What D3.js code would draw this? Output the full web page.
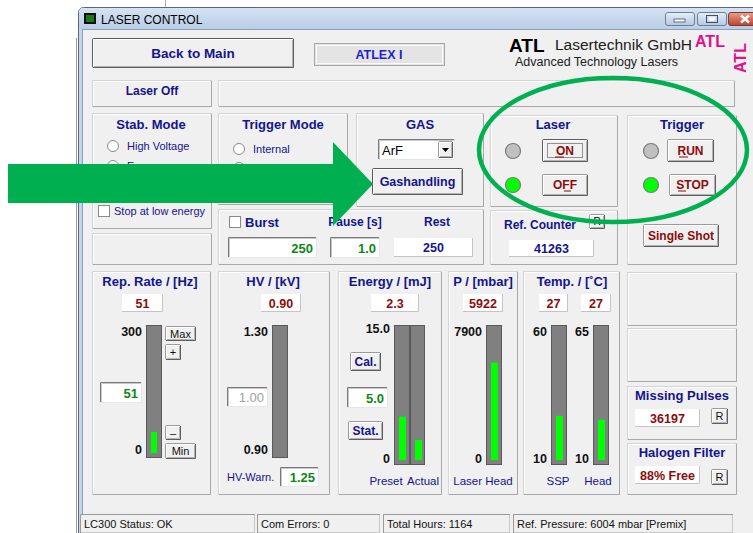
<!DOCTYPE html>
<html lang="en">
<head>
<meta charset="UTF-8">
<title>Laser Control</title>
<script src="https://d3js.org/d3.v7.min.js"></script>
<style>
    body { margin: 0; background: #fff; }
    text { font-family: "Liberation Sans", Arial, sans-serif; }
</style>
</head>
<body>
<script>
    // bar gauges (one entry per bar)
    const gaugeNames = ["Rep. Rate", "HV", "Preset", "Actual", "Laser Head", "SSP", "Head"];
    const gaugeMin = [0, 0.90, 0, 0, 0, 10, 10];
    const gaugeMax = [300, 1.30, 15, 15, 7900, 60, 65];
    const gaugeValues = [51, 0.90, 5.0, 2.3, 5922, 27, 27];
    const gaugeTopLabels = ["300", "1.30", "15.0", "", "7900", "60", "65"];
    const gaugeBottomLabels = ["0", "0.90", "0", "", "0", "10", "10"];

    // readouts above the gauges
    const groupTitles = ["Rep. Rate / [Hz]", "HV / [kV]", "Energy / [mJ]", "P / [mbar]", "Temp. / [˚C]"];
    const readoutValues = ["51", "0.90", "2.3", "5922", "27", "27"];
    const setpointValues = ["51", "1.00", "5.0"];
    const hvWarn = "1.25";

    const burstValues = ["250", "1.0", "250"];
    const refCounter = "41263";
    const missingPulses = "36197";
    const halogenFilter = "88% Free";
    const statusTexts = ["LC300 Status: OK", "Com Errors:  0", "Total Hours: 1164", "Ref. Pressure:  6004 mbar  [Premix]"];

    const W = 753, H = 533;
    const navy = "#14148c", dred = "#8c0c0c", okGreen = "#0a8a14";

    const svg = d3.select("body").append("svg").attr("width", W).attr("height", H);

    function txt(x, y, s, o = {}) {
        return svg.append("text").attr("x", x).attr("y", y)
            .attr("dominant-baseline", "central")
            .attr("text-anchor", o.anchor || "start")
            .attr("font-size", o.size || 11)
            .attr("font-weight", o.weight || "normal")
            .attr("fill", o.fill || "#000")
            .text(s);
    }

    function panel(x, y, w, h) {
        svg.append("rect").attr("x", x + 0.5).attr("y", y + 0.5).attr("width", w - 1).attr("height", h - 1)
            .attr("fill", "#f0f0f0").attr("stroke", "#d4d4d4");
        svg.append("path").attr("d", `M${x + 1.5},${y + h - 2}V${y + 1.5}H${x + w - 2}`)
            .attr("fill", "none").attr("stroke", "#fff");
        svg.append("path").attr("d", `M${x + 1},${y + h - 0.5}H${x + w - 0.5}V${y + 1}`)
            .attr("fill", "none").attr("stroke", "#a8a8a8");
    }

    function button(x, y, w, h, label, o = {}) {
        svg.append("rect").attr("x", x + 0.5).attr("y", y + 0.5).attr("width", w - 1).attr("height", h - 1)
            .attr("rx", 1).attr("fill", "#f0f0f0").attr("stroke", o.dark ? "#5a5a5a" : "#9a9a9a");
        svg.append("path").attr("d", `M${x + 1.5},${y + h - 2}V${y + 1.5}H${x + w - 2}`)
            .attr("fill", "none").attr("stroke", "#fff");
        svg.append("path").attr("d", `M${x + 1},${y + h - 0.5}H${x + w - 0.5}V${y + 1}`)
            .attr("fill", "none").attr("stroke", "#5e5e5e");
        svg.append("path").attr("d", `M${x + 2},${y + h - 1.5}H${x + w - 1.5}V${y + 2}`)
            .attr("fill", "none").attr("stroke", "#b4b4b4");
        if (label !== undefined) {
            txt(x + w / 2, y + h / 2, label, {
                anchor: "middle", size: o.size || 12, weight: o.weight || "bold", fill: o.fill || navy
            });
        }
    }

    function field(x, y, w, h, s, o = {}) {
        svg.append("rect").attr("x", x).attr("y", y).attr("width", w).attr("height", h).attr("fill", "#fff");
        if (o.sunken) {
            svg.append("path").attr("d", `M${x + 0.5},${y + h}V${y + 0.5}H${x + w}`)
                .attr("fill", "none").attr("stroke", "#7a7a7a");
            svg.append("path").attr("d", `M${x + 1.5},${y + h - 1}V${y + 1.5}H${x + w - 1}`)
                .attr("fill", "none").attr("stroke", "#c8c8c8");
            svg.append("path").attr("d", `M${x},${y + h - 0.5}H${x + w - 0.5}V${y}`)
                .attr("fill", "none").attr("stroke", "#e6e6e6");
        } else {
            svg.append("path").attr("d", `M${x},${y + h - 0.5}H${x + w - 0.5}V${y}`)
                .attr("fill", "none").attr("stroke", "#c4c4c4");
        }
        const anchor = o.anchor || "middle";
        const tx = anchor === "end" ? x + w - 4 : x + w / 2;
        txt(tx, y + h / 2 + 0.5, s, { anchor, size: o.size || 13, weight: o.weight || "bold", fill: o.fill || dred });
    }

    function radio(cx, cy, label) {
        svg.append("circle").attr("cx", cx).attr("cy", cy).attr("r", 5.5)
            .attr("fill", "#fff").attr("stroke", "#8a8a8a");
        txt(cx + 14, cy, label, { fill: navy, size: 11 });
    }

    function checkbox(x, y, label, o = {}) {
        svg.append("rect").attr("x", x + 0.5).attr("y", y + 0.5).attr("width", 11).attr("height", 11)
            .attr("fill", "#fff").attr("stroke", "#8a8a8a");
        txt(x + 16, y + 6, label, { fill: navy, size: o.size || 11, weight: o.weight || "normal" });
    }

    function led(cx, cy, on) {
        svg.append("circle").attr("cx", cx).attr("cy", cy).attr("r", 7.5)
            .attr("fill", on ? "#00ff00" : "#c0c0c0").attr("stroke", "#7a7a7a").attr("stroke-width", 1.2);
    }

    // ---------- window chrome ----------
    svg.append("rect").attr("width", W).attr("height", H).attr("fill", "#fff");
    svg.append("line").attr("x1", 76.5).attr("x2", 76.5).attr("y1", 38).attr("y2", H).attr("stroke", "#9a9a9a");
    svg.append("line").attr("x1", 165.5).attr("x2", 165.5).attr("y1", 0).attr("y2", 7).attr("stroke", "#b0b0b0");

    const defs = svg.append("defs");
    const tg = defs.append("linearGradient").attr("id", "title").attr("x1", 0).attr("x2", 0).attr("y1", 0).attr("y2", 1);
    tg.append("stop").attr("offset", 0).attr("stop-color", "#d5e3f3");
    tg.append("stop").attr("offset", 1).attr("stop-color", "#b6cce6");
    const cg = defs.append("linearGradient").attr("id", "close").attr("x1", 0).attr("x2", 0).attr("y1", 0).attr("y2", 1);
    cg.append("stop").attr("offset", 0).attr("stop-color", "#e8a090");
    cg.append("stop").attr("offset", 1).attr("stop-color", "#c0402c");
    const bg = defs.append("linearGradient").attr("id", "cap").attr("x1", 0).attr("x2", 0).attr("y1", 0).attr("y2", 1);
    bg.append("stop").attr("offset", 0).attr("stop-color", "#e6eef8");
    bg.append("stop").attr("offset", 1).attr("stop-color", "#b4c8e2");

    svg.append("rect").attr("x", 78.5).attr("y", 7.5).attr("width", 700).attr("height", 540).attr("rx", 5)
        .attr("fill", "#c4d6ec").attr("stroke", "#5c6878");
    svg.append("rect").attr("x", 79).attr("y", 8).attr("width", 700).attr("height", 22).attr("rx", 4).attr("fill", "url(#title)");
    svg.append("rect").attr("x", 82.5).attr("y", 29.5).attr("width", 700).attr("height", 520)
        .attr("fill", "#f0f0f0").attr("stroke", "#8e9fb4");

    // title icon + text
    svg.append("rect").attr("x", 84).attr("y", 13).attr("width", 12).attr("height", 11).attr("fill", "#101010");
    svg.append("rect").attr("x", 86).attr("y", 15).attr("width", 8).attr("height", 7).attr("fill", "#1a7a1a");
    txt(101, 19.5, "LASER CONTROL", { size: 12 });

    // caption buttons
    [[665, 29], [697, 29]].forEach(([x, w]) => {
        svg.append("rect").attr("x", x + 0.5).attr("y", 12.5).attr("width", w).attr("height", 13).attr("rx", 2.5)
            .attr("fill", "url(#cap)").attr("stroke", "#6b7f99");
    });
    svg.append("rect").attr("x", 674).attr("y", 19).attr("width", 11).attr("height", 3).attr("fill", "#fff").attr("stroke", "#40506a").attr("stroke-width", 0.8);
    svg.append("rect").attr("x", 706.5).attr("y", 15.5).attr("width", 11).attr("height", 7).attr("fill", "none").attr("stroke", "#40506a").attr("stroke-width", 1);
    svg.append("rect").attr("x", 709).attr("y", 17.5).attr("width", 6).attr("height", 3).attr("fill", "#fff");
    svg.append("rect").attr("x", 728.5).attr("y", 12.5).attr("width", 40).attr("height", 13).attr("rx", 2.5)
        .attr("fill", "url(#close)").attr("stroke", "#7a3a30");
    svg.append("path").attr("d", "M741,15.5L749,22.5M749,15.5L741,22.5").attr("stroke", "#fff").attr("stroke-width", 2.4);

    // ---------- top row ----------
    button(92, 38, 202, 30, "Back to Main", { size: 13.5, dark: true });
    svg.append("rect").attr("x", 314.5).attr("y", 43.5).attr("width", 130).attr("height", 22)
        .attr("fill", "#e4e4e4").attr("stroke", "#a8a8a8");
    svg.append("rect").attr("x", 316.5).attr("y", 45.5).attr("width", 126).attr("height", 18)
        .attr("fill", "none").attr("stroke", "#fafafa");
    txt(379, 55, "ATLEX I", { anchor: "middle", size: 12.5, weight: "bold", fill: "#1e1ecc" });

    txt(509, 45, "ATL", { size: 19, weight: "bold" });
    txt(555, 44, "Lasertechnik GmbH", { size: 15.5, fill: "#202020" });
    txt(515, 62, "Advanced Technology Lasers", { size: 12.5, fill: "#202020" });
    txt(695, 41, "ATL", { size: 16, weight: "bold", fill: "#e0118a" });
    svg.append("text").attr("transform", "translate(740,73) rotate(-90)")
        .attr("dominant-baseline", "central").attr("font-size", 16).attr("font-weight", "bold")
        .attr("fill", "#e0118a").text("ATL");

    panel(92, 80, 120, 27);
    txt(152, 91, "Laser Off", { anchor: "middle", size: 12, weight: "bold", fill: navy });
    panel(218, 80, 517, 27);

    // ---------- second row ----------
    panel(92, 113, 120, 116);
    txt(151, 124, "Stab. Mode", { anchor: "middle", size: 13, weight: "bold", fill: navy });
    radio(113, 146, "High Voltage");
    radio(113, 166, "Energy");
    checkbox(98, 205, "Stop at low energy");
    panel(92, 233, 120, 32);

    panel(218, 113, 130, 92);
    txt(283, 124, "Trigger Mode", { anchor: "middle", size: 13, weight: "bold", fill: navy });
    radio(239, 149, "Internal");
    radio(239, 168, "External");

    panel(356, 113, 128, 94);
    txt(420, 124, "GAS", { anchor: "middle", size: 13, weight: "bold", fill: navy });
    field(378, 139, 77, 21, "", { sunken: true });
    txt(382, 150, "ArF", { size: 13, fill: "#000" });
    button(438, 141, 15, 17);
    svg.append("path").attr("d", "M442,148H449L445.5,152Z").attr("fill", "#000");
    button(372, 168, 91, 27, "Gashandling", { size: 12.5, dark: true });

    panel(218, 209, 266, 56);
    checkbox(229, 216, "Burst", { size: 13, weight: "bold" });
    txt(355, 222, "Pause [s]", { anchor: "middle", size: 12, weight: "bold", fill: navy });
    txt(437, 222, "Rest", { anchor: "middle", size: 12, weight: "bold", fill: navy });
    field(228, 237, 89, 21, burstValues[0], { sunken: true, anchor: "end", fill: okGreen });
    field(330, 237, 50, 21, burstValues[1], { sunken: true, anchor: "end", fill: okGreen });
    field(394, 238, 79, 19, burstValues[2], { fill: navy, size: 12.5 });

    // Laser on/off
    panel(490, 115, 128, 92);
    txt(553, 124, "Laser", { anchor: "middle", size: 13, weight: "bold", fill: navy });
    led(513, 151, false);
    led(513, 185, true);
    button(542, 139, 46, 23, "ON", { fill: dred, dark: true });
    svg.append("rect").attr("x", 547.5).attr("y", 143.5).attr("width", 35).attr("height", 14)
        .attr("fill", "none").attr("stroke", "#333").attr("stroke-dasharray", "1,1");
    svg.append("line").attr("x1", 555).attr("x2", 564).attr("y1", 157).attr("y2", 157).attr("stroke", dred);
    button(542, 174, 46, 22, "OFF", { fill: dred });
    svg.append("line").attr("x1", 564).attr("x2", 571).attr("y1", 191).attr("y2", 191).attr("stroke", dred);

    panel(490, 210, 128, 55);
    txt(540, 225, "Ref. Counter", { anchor: "middle", size: 12, weight: "bold", fill: navy });
    button(589, 214, 16, 15, "R", { size: 10, weight: "normal", fill: "#000" });
    field(509, 240, 85, 17, refCounter, { fill: navy, size: 12.5 });

    // Trigger run/stop
    panel(627, 115, 110, 150);
    txt(682, 124, "Trigger", { anchor: "middle", size: 13, weight: "bold", fill: navy });
    led(651, 151, false);
    led(651, 185, true);
    button(667, 139, 47, 23, "RUN", { fill: dred });
    svg.append("line").attr("x1", 679).attr("x2", 688).attr("y1", 157).attr("y2", 157).attr("stroke", dred);
    button(669, 174, 47, 22, "STOP", { fill: dred });
    svg.append("line").attr("x1", 678).attr("x2", 686).attr("y1", 191).attr("y2", 191).attr("stroke", dred);
    button(643, 224, 76, 23, "Single Shot", { fill: dred });

    // ---------- gauge row ----------
    const groupPanels = [[92, 119], [218, 112], [338, 104], [448, 70], [523, 97]];
    const groupCenters = [150, 273, 390, 483, 572];
    groupPanels.forEach(([x, w]) => panel(x, 271, w, 224));
    groupTitles.forEach((t, i) => txt(groupCenters[i], 281, t, { anchor: "middle", size: 13, weight: "bold", fill: navy }));

    const readoutBoxes = [[122, 41], [261, 40], [371, 48], [463, 40], [539, 29], [581, 30]];
    readoutValues.forEach((v, i) => field(readoutBoxes[i][0], 294, readoutBoxes[i][1], 18, v, { size: 12.5 }));

    // gauge layout (screen geometry)
    const gaugeX = [146, 272, 394, 410, 486, 551, 593];
    const gaugeW = [16, 16, 16, 15, 16, 16, 16];
    const trackTop = 325;
    const gaugeBottom = [458, 458, 465, 465, 465, 465, 465];

    const gauges = gaugeNames.map((name, i) => ({
        name, min: gaugeMin[i], max: gaugeMax[i], value: gaugeValues[i],
        top: gaugeTopLabels[i], bottom: gaugeBottomLabels[i],
        x: gaugeX[i], w: gaugeW[i], y1: gaugeBottom[i],
        scale: d3.scaleLinear().domain([gaugeMin[i], gaugeMax[i]]).range([gaugeBottom[i] - 5, trackTop + 5])
    }));

    const gg = svg.append("g").selectAll("g").data(gauges).enter().append("g");
    gg.append("rect")
        .attr("x", d => d.x + 0.5).attr("y", trackTop + 0.5)
        .attr("width", d => d.w - 1).attr("height", d => d.y1 - trackTop - 1)
        .attr("fill", "#808080").attr("stroke", "#5a5a5a");
    gg.append("rect")
        .attr("x", d => d.x + 5).attr("width", d => d.name === "Rep. Rate" ? 6 : 7)
        .attr("y", d => d.scale(d.value))
        .attr("height", d => d.scale(d.min) - d.scale(d.value))
        .attr("fill", "#00ff00");
    gg.filter(d => d.top).append("text")
        .attr("x", d => d.x - 4).attr("y", d => d.name === "Preset" ? 329 : 332)
        .attr("text-anchor", "end").attr("dominant-baseline", "central")
        .attr("font-size", 12.5).attr("font-weight", "bold").attr("fill", "#111")
        .text(d => d.top);
    gg.filter(d => d.bottom).append("text")
        .attr("x", d => d.x - 4).attr("y", d => d.y1 === 458 ? 450 : 459)
        .attr("text-anchor", "end").attr("dominant-baseline", "central")
        .attr("font-size", 12.5).attr("font-weight", "bold").attr("fill", "#111")
        .text(d => d.bottom);

    const bottomCenters = [null, null, 386, 423, 483, 558, 598];
    gaugeNames.forEach((n, i) => {
        if (bottomCenters[i]) txt(bottomCenters[i], 481, n, { anchor: "middle", size: 11.5, fill: navy });
    });

    // controls beside the gauges
    button(165, 326, 31, 15, "Max", { size: 11, weight: "normal", fill: "#111" });
    button(165, 344, 16, 16, "+", { size: 11, weight: "normal", fill: "#111" });
    button(165, 425, 16, 15, "–", { size: 11, weight: "normal", fill: "#111" });
    button(165, 443, 31, 16, "Min", { size: 11, weight: "normal", fill: "#111" });
    field(100, 382, 42, 21, setpointValues[0], { sunken: true, anchor: "end", fill: okGreen });
    field(227, 387, 41, 20, setpointValues[1], { sunken: true, anchor: "end", fill: "#a0a0a0", weight: "normal" });
    field(347, 387, 41, 21, setpointValues[2], { sunken: true, anchor: "end", fill: okGreen });
    button(350, 352, 31, 19, "Cal.", { size: 12 });
    button(348, 421, 35, 19, "Stat.", { size: 12 });
    txt(227, 477, "HV-Warn.", { size: 11, fill: navy });
    field(280, 467, 39, 20, hvWarn, { sunken: true, anchor: "end", fill: okGreen });

    // right column
    panel(627, 272, 110, 54);
    panel(627, 328, 110, 54);
    panel(627, 386, 110, 54);
    txt(682, 395, "Missing Pulses", { anchor: "middle", size: 13, weight: "bold", fill: navy });
    field(635, 409, 65, 18, missingPulses, { size: 12.5 });
    button(711, 408, 17, 16, "R", { size: 11, weight: "normal", fill: "#111" });
    panel(627, 443, 110, 52);
    txt(682, 452, "Halogen Filter", { anchor: "middle", size: 13, weight: "bold", fill: navy });
    field(635, 466, 65, 18, halogenFilter, { size: 12.5 });
    button(711, 469, 17, 16, "R", { size: 11, weight: "normal", fill: "#111" });

    // ---------- status bar ----------
    const statusSegs = [[80, 175], [257, 123], [383, 127], [513, 220]];
    statusSegs.forEach(([x, w], i) => {
        svg.append("rect").attr("x", x + 0.5).attr("y", 514.5).attr("width", w - 1).attr("height", 18)
            .attr("fill", "#f0f0f0").attr("stroke", "#c8c8c8");
        svg.append("path").attr("d", `M${x + 0.5},${533}V${514.5}H${x + w}`).attr("fill", "none").attr("stroke", "#9a9a9a");
        txt(x + 4, 524, statusTexts[i], { size: 11, fill: "#111" });
    });

    // ---------- annotations ----------
    svg.append("path")
        .attr("d", "M8,164H333V142L373,184L333,226V203H8Z")
        .attr("fill", "#00b050");
    svg.append("ellipse").attr("cx", 613).attr("cy", 150).attr("rx", 134).attr("ry", 72)
        .attr("fill", "none").attr("stroke", "#00b050").attr("stroke-width", 4.5);
</script>
</body>
</html>
